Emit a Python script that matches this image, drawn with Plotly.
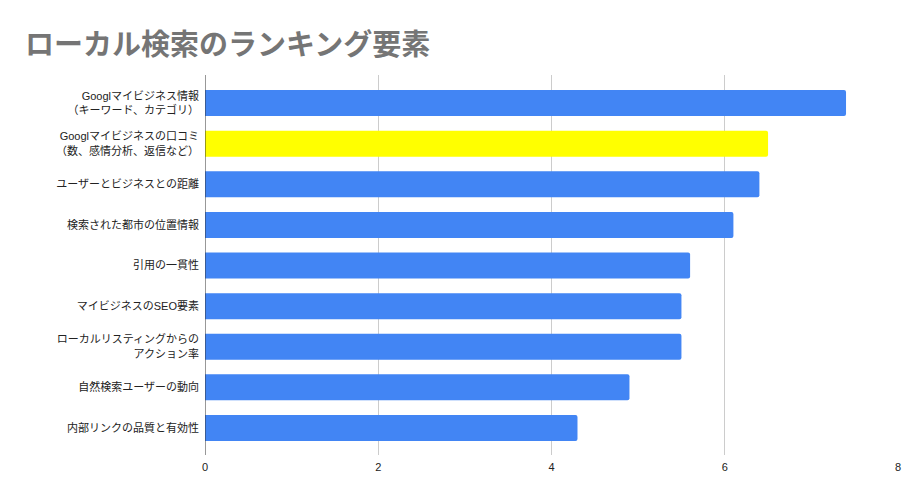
import plotly.graph_objects as go

categories = [
    "Googlマイビジネス情報<br>（キーワード、カテゴリ）",
    "Googlマイビジネスの口コミ<br>（数、感情分析、返信など）",
    "ユーザーとビジネスとの距離",
    "検索された都市の位置情報",
    "引用の一貫性",
    "マイビジネスのSEO要素",
    "ローカルリスティングからの<br>アクション率",
    "自然検索ユーザーの動向",
    "内部リンクの品質と有効性",
]
values = [7.4, 6.5, 6.4, 6.1, 5.6, 5.5, 5.5, 4.9, 4.3]
colors = ["#4285F4", "#FFFF00"] + ["#4285F4"] * 7
x_ticks = [0, 2, 4, 6, 8]

font_family = "Arial, Liberation Sans, Noto Sans CJK JP, sans-serif"

fig = go.Figure(go.Bar(
    y=categories,
    x=values,
    orientation="h",
    marker=dict(color=colors, line=dict(width=0), cornerradius=2),
    width=0.64,
    hoverinfo="x+y",
))

fig.update_layout(
    width=924,
    height=500,
    margin=dict(l=205, r=26, t=75, b=45),
    paper_bgcolor="white",
    plot_bgcolor="white",
    showlegend=False,
    font=dict(family=font_family, size=11, color="#222222"),
)
fig.add_annotation(
    text="<b>ローカル検索のランキング要素</b>",
    xref="paper", yref="paper", x=(23 - 205) / 693, y=1 + 30 / 380,
    xanchor="left", yanchor="middle", showarrow=False,
    font=dict(family=font_family, size=29, color="#757575"),
)

fig.update_xaxes(
    range=[0, 8],
    tickvals=x_ticks,
    ticktext=[str(v) for v in x_ticks],
    showgrid=True,
    gridcolor="#cccccc",
    gridwidth=1,
    zeroline=False,
    showline=False,
    tickfont=dict(size=11, color="#222222"),
    ticks="",
    ticklabelstandoff=4,
    fixedrange=True,
)
fig.update_yaxes(
    categoryorder="array",
    categoryarray=categories,
    range=[8.665, -0.69],
    showgrid=False,
    showline=False,
    ticks="",
    ticklabelstandoff=5,
    tickfont=dict(size=11, color="#222222"),
    fixedrange=True,
)
fig.add_shape(type="line", xref="x", yref="paper", x0=0, x1=0, y0=0, y1=1,
              line=dict(color="#333333", width=1))

fig.write_html("out.html")
